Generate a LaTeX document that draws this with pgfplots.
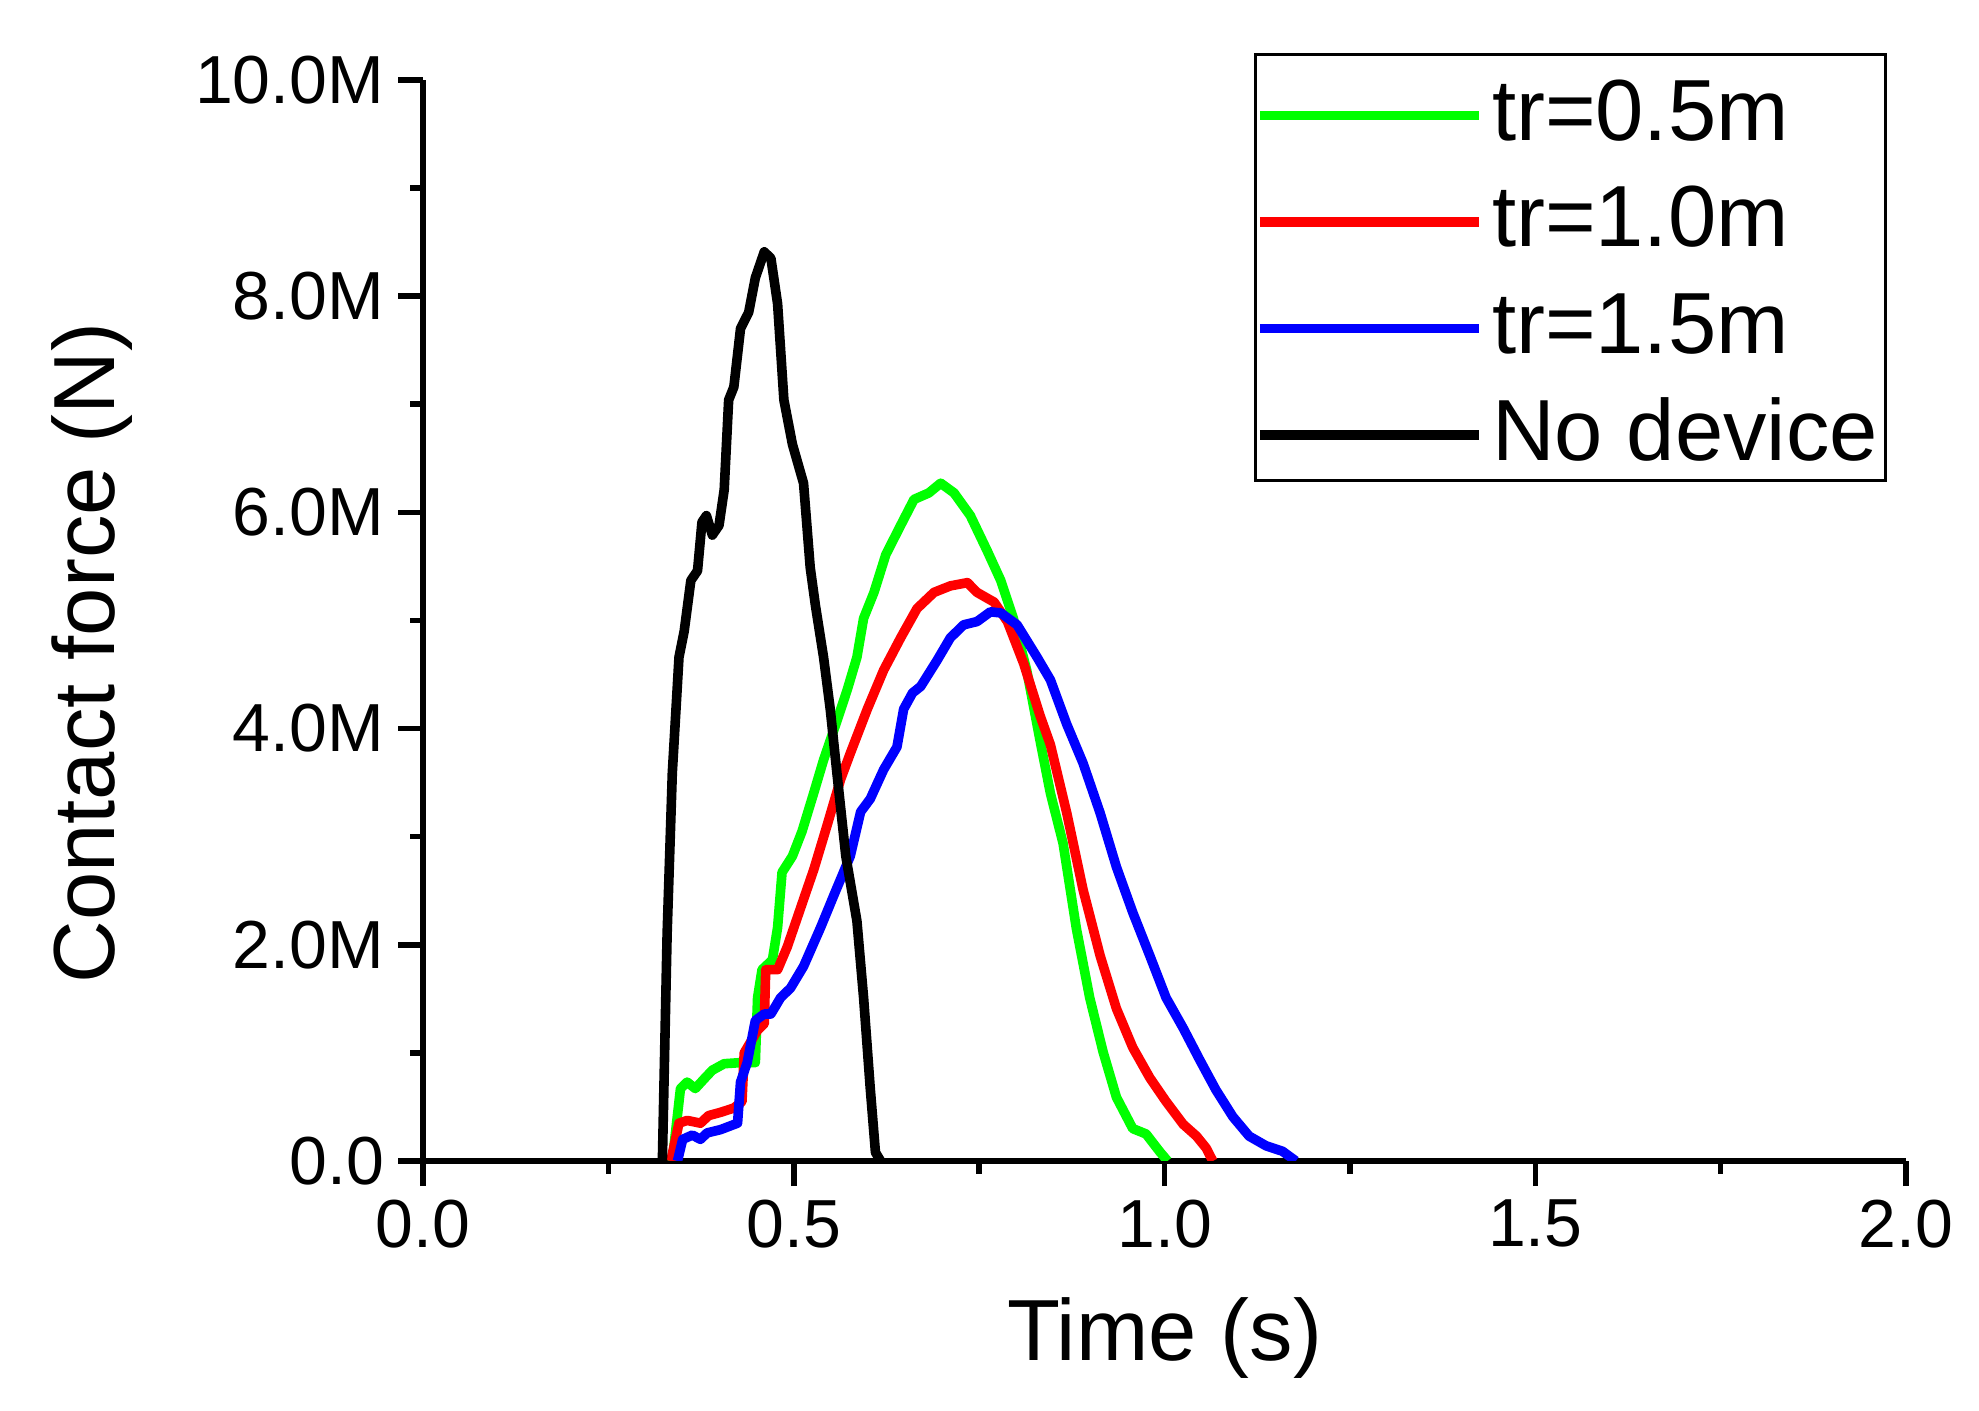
\documentclass[border=0pt]{standalone}
\usepackage{fontspec}
\setmainfont{Liberation Sans}
\usepackage{pgfplots}
\pgfplotsset{compat=1.18}
\definecolor{cgreen}{RGB}{0,255,0}
\definecolor{cred}{RGB}{255,0,0}
\definecolor{cblue}{RGB}{0,0,255}
\begin{document}
\begin{tikzpicture}
\useasboundingbox (-105.8pt,-62.5pt) rectangle (388.95pt,290.25pt);
\begin{axis}[
  at={(0pt,0pt)}, anchor=south west,
  scale only axis, width=370.7pt, height=270.25pt,
  xmin=0, xmax=2, ymin=0, ymax=10,
  axis lines=left,
  axis line style={-, line width=1.4pt, black},
  every outer x axis line/.append style={-},
  every outer y axis line/.append style={-},
  tick align=outside,
  major tick length=6.25pt, minor tick length=3.25pt,
  tick style={line width=1.4pt, black},
  minor x tick num=1, minor y tick num=1,
  xtick={0,0.5,1,1.5,2}, xticklabels={0.0,0.5,1.0,1.5,2.0},
  ytick={0,2,4,6,8,10}, yticklabels={0.0,2.0M,4.0M,6.0M,8.0M,10.0M},
  /pgf/number format/assume math mode=true,
  tick label style={font=\fontsize{17}{20}\selectfont},
  label style={font=\fontsize{21.7}{26}\selectfont},
  xlabel={Time (s)}, ylabel={Contact force (N)},
  xlabel style={at={(ticklabel cs:0.5,8.9pt)}, inner sep=0pt},
  ylabel style={at={(ticklabel cs:0.47,12.2pt)}, inner sep=0pt},
  legend cell align=left,
  legend style={at={(0.9875,1.025)}, anchor=north east, draw=black, line width=0.75pt,
    inner sep=0pt, font=\fontsize{21.7}{26}\selectfont,
    nodes={inner xsep=2pt, inner ysep=0pt, text height=21.45pt, text depth=5.2pt},
    row sep=0pt, column sep=0pt},
  legend image code/.code={\path (0pt,-1.9pt) -- (54.8pt,-1.9pt);
    \draw[#1, line cap=round] (6.9pt,-1.9pt) -- (46.35pt,-1.9pt);},
]
\addplot[cgreen, line width=2.4pt, line join=round] coordinates {
(0.336,0) (0.347,0.67) (0.356,0.73) (0.367,0.67) (0.379,0.76) (0.390,0.84) (0.406,0.90)
(0.428,0.91) (0.448,0.91) (0.451,1.51) (0.457,1.77) (0.471,1.86) (0.478,2.16) (0.484,2.67)
(0.498,2.82) (0.511,3.05) (0.527,3.41) (0.540,3.71) (0.558,4.07) (0.572,4.36) (0.585,4.66)
(0.594,5.02) (0.608,5.26) (0.624,5.61) (0.644,5.88) (0.662,6.12) (0.682,6.18) (0.698,6.27)
(0.716,6.18) (0.738,5.97) (0.761,5.64) (0.779,5.37) (0.796,5.02) (0.814,4.54) (0.832,3.89)
(0.846,3.40) (0.863,2.94) (0.881,2.15) (0.899,1.51) (0.917,1.01) (0.935,0.59) (0.957,0.30)
(0.975,0.25) (0.993,0.09) (1.004,0)
};
\addlegendentry{tr=0.5m}
\addplot[cred, line width=2.4pt, line join=round] coordinates {
(0.334,0) (0.345,0.35) (0.356,0.375) (0.374,0.35) (0.385,0.42) (0.401,0.45) (0.419,0.49)
(0.430,0.55) (0.433,1.0) (0.451,1.21) (0.460,1.27) (0.462,1.77) (0.478,1.77) (0.491,1.98)
(0.509,2.34) (0.527,2.70) (0.545,3.11) (0.563,3.53) (0.576,3.77) (0.599,4.18) (0.621,4.54)
(0.644,4.84) (0.666,5.11) (0.689,5.26) (0.711,5.32) (0.734,5.35) (0.747,5.26) (0.770,5.17)
(0.788,4.99) (0.810,4.60) (0.832,4.12) (0.846,3.85) (0.868,3.22) (0.890,2.51) (0.913,1.90)
(0.935,1.41) (0.957,1.05) (0.980,0.77) (1.002,0.55) (1.025,0.34) (1.043,0.23) (1.056,0.12)
(1.065,0)
};
\addlegendentry{tr=1.0m}
\addplot[cblue, line width=2.4pt, line join=round] coordinates {
(0.343,0) (0.350,0.20) (0.363,0.24) (0.374,0.20) (0.383,0.26) (0.401,0.29) (0.424,0.35)
(0.428,0.73) (0.437,0.91) (0.448,1.30) (0.460,1.36) (0.469,1.36) (0.482,1.51) (0.4955,1.60)
(0.513,1.80) (0.536,2.16) (0.554,2.46) (0.576,2.82) (0.590,3.23) (0.603,3.35) (0.621,3.62)
(0.639,3.83) (0.648,4.18) (0.660,4.33) (0.671,4.39) (0.693,4.63) (0.711,4.84) (0.729,4.96)
(0.747,4.99) (0.765,5.08) (0.779,5.07) (0.801,4.96) (0.828,4.66) (0.846,4.45) (0.868,4.04)
(0.890,3.68) (0.913,3.22) (0.935,2.72) (0.957,2.30) (0.980,1.90) (1.002,1.51) (1.025,1.23)
(1.047,0.94) (1.069,0.66) (1.092,0.41) (1.114,0.23) (1.137,0.14) (1.159,0.09) (1.177,0)
};
\addlegendentry{tr=1.5m}
\addplot[black, line width=2.4pt, line join=round] coordinates {
(0.3226,0) (0.329,2.1) (0.336,3.59) (0.345,4.66) (0.352,4.9) (0.361,5.37) (0.370,5.46)
(0.376,5.91) (0.382,5.97) (0.390,5.79) (0.399,5.88) (0.406,6.21) (0.412,7.04) (0.419,7.16)
(0.428,7.70) (0.439,7.85) (0.448,8.17) (0.460,8.41) (0.469,8.35) (0.478,7.93) (0.4865,7.04)
(0.498,6.63) (0.513,6.27) (0.522,5.49) (0.529,5.14) (0.540,4.66) (0.549,4.18) (0.558,3.59)
(0.570,2.82) (0.585,2.22) (0.594,1.51) (0.603,0.67) (0.610,0.08) (0.617,0)
};
\addlegendentry{No device}
\end{axis}
\end{tikzpicture}
\end{document}
